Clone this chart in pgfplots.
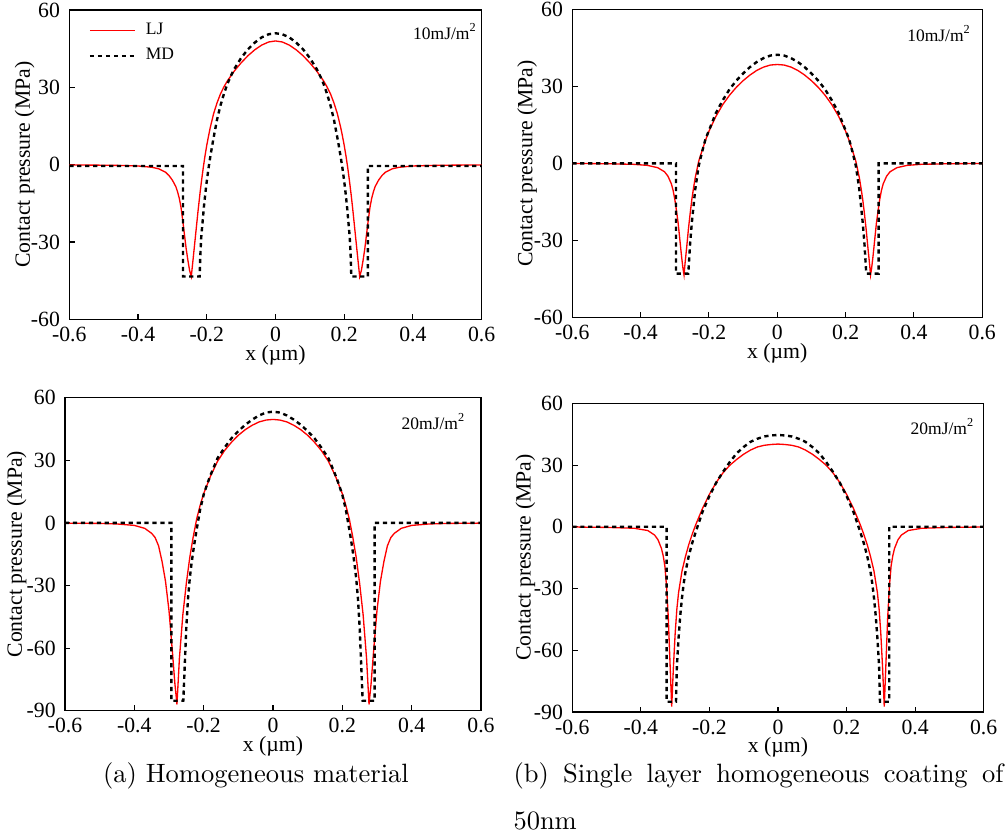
\documentclass[border=0pt]{standalone}
\usepackage{fontspec}
\usepackage{pgfplots}
\pgfplotsset{compat=1.18}
\newfontfamily\tnr{Liberation Serif}
\newcommand\tickf{\tnr\fontsize{8.2}{9.8}\selectfont}
\newcommand\smallf{\tnr\fontsize{6.6}{7.9}\selectfont}
\definecolor{ljred}{RGB}{255,0,0}
\pgfplotsset{
  panel/.style={
    scale only axis,
    xmin=-0.6, xmax=0.6,
    xtick={-0.6,-0.4,-0.2,0,0.2,0.4,0.6},
    xticklabels={-0.6,-0.4,-0.2,0,0.2,0.4,0.6},
    xtick pos=left, ytick pos=left,
    tick align=inside,
    major tick length=2pt,
    tick style={black, line width=0.4pt},
    axis line style={line width=0.5pt},
    ticklabel style={font=\tickf},
    xticklabel style={inner sep=0.5pt, yshift=-2.2pt},
    label style={font=\tickf},
    xlabel={x (µm)},
    ylabel={Contact pressure (MPa)},
    xlabel style={at={(axis description cs:0.5,-0.116)}, anchor=center, inner sep=0.5pt},
    ylabel style={at={(axis description cs:-0.108,0.5)}, anchor=center},
  },
  top/.style={ymin=-60, ymax=60, ytick={-60,-30,0,30,60}, yticklabels={-60,-30,0,30,60}},
  bot/.style={ymin=-90, ymax=60, ytick={-90,-60,-30,0,30,60}, yticklabels={-90,-60,-30,0,30,60}},
}
\begin{document}
\begin{tikzpicture}
\useasboundingbox (0,0) rectangle (379.3pt,315.9pt);

% (a) top: 10 mJ/m2, homogeneous
\begin{axis}[panel, top, at={(26.15pt,195.38pt)}, anchor=south west, width=155.64pt, height=116.73pt,
  legend style={draw=none, fill=none, at={(axis description cs:0.046,0.966)}, anchor=north west, font=\smallf, row sep=2.7pt, inner sep=0pt, column sep=3pt, nodes={inner sep=0.6pt}},
  legend cell align=left]
\addplot[ljred, line width=0.5pt] coordinates {(-0.6,-0.1)(-0.5,-0.2)(-0.45,-0.3)(-0.4,-0.5)(-0.36,-1)(-0.34,-1.6)(-0.32,-2.9)(-0.31,-4.2)(-0.3,-6)(-0.29,-8.5)(-0.285,-10.5)(-0.28,-13)(-0.275,-16.5)(-0.27,-21.5)(-0.265,-27)(-0.26,-32.5)(-0.255,-37)(-0.25,-41)(-0.245,-43.4)(-0.24,-37)(-0.235,-30.5)(-0.23,-24)(-0.225,-17.5)(-0.22,-11.5)(-0.215,-6)(-0.21,-1)(-0.205,3.5)(-0.2,7.5)(-0.195,11)(-0.19,14.3)(-0.18,19.8)(-0.17,24)(-0.16,27.5)(-0.15,30.2)(-0.14,32.5)(-0.12,36.3)(-0.1,39.5)(-0.08,42.3)(-0.06,44.6)(-0.04,46.4)(-0.02,47.6)(0,48)(0.02,47.6)(0.04,46.4)(0.06,44.6)(0.08,42.3)(0.1,39.5)(0.12,36.3)(0.14,32.5)(0.15,30.2)(0.16,27.5)(0.17,24)(0.18,19.8)(0.19,14.3)(0.195,11)(0.2,7.5)(0.205,3.5)(0.21,-1)(0.215,-6)(0.22,-11.5)(0.225,-17.5)(0.23,-24)(0.235,-30.5)(0.24,-37)(0.245,-43.4)(0.25,-41)(0.255,-37)(0.26,-32.5)(0.265,-27)(0.27,-21.5)(0.275,-16.5)(0.28,-13)(0.285,-10.5)(0.29,-8.5)(0.3,-6)(0.31,-4.2)(0.32,-2.9)(0.34,-1.6)(0.36,-1)(0.4,-0.5)(0.45,-0.3)(0.5,-0.2)(0.6,-0.1)};
\addlegendentry{LJ}
\addplot[black, line width=0.9pt, dash pattern=on 1.6pt off 1.4pt] coordinates {(-0.6,-0.5)(-0.269,-0.5)(-0.269,-43.4)(-0.2206,-43.4)(-0.219,-36)(-0.216,-28)(-0.212,-22)(-0.208,-16)(-0.204,-11)(-0.2,-6.5)(-0.195,-1.5)(-0.19,2.8)(-0.185,6.8)(-0.18,10.5)(-0.17,17.5)(-0.16,23)(-0.15,27.5)(-0.14,31.3)(-0.13,34.4)(-0.12,37.1)(-0.1,41.4)(-0.08,44.8)(-0.06,47.4)(-0.04,49.4)(-0.02,50.6)(0,51)(0.02,50.6)(0.04,49.4)(0.06,47.4)(0.08,44.8)(0.1,41.4)(0.12,37.1)(0.13,34.4)(0.14,31.3)(0.15,27.5)(0.16,23)(0.17,17.5)(0.18,10.5)(0.185,6.8)(0.19,2.8)(0.195,-1.5)(0.2,-6.5)(0.204,-11)(0.208,-16)(0.212,-22)(0.216,-28)(0.219,-36)(0.2206,-43.4)(0.269,-43.4)(0.269,-0.5)(0.6,-0.5)};
\addlegendentry{MD}
\node[anchor=east, font=\smallf, inner sep=0pt] at (axis description cs:0.99,0.929) {10mJ/m\textsuperscript{2}};
\end{axis}

% (b) top: 10 mJ/m2, coating
\begin{axis}[panel, top, at={(215.99pt,196.14pt)}, anchor=south west, width=154.73pt, height=116.24pt,
  ylabel style={at={(axis description cs:-0.11,0.5)}, anchor=center}]
\addplot[ljred, line width=0.5pt] coordinates {(-0.6,-0.05)(-0.5,-0.15)(-0.42,-0.4)(-0.38,-0.8)(-0.35,-1.7)(-0.33,-3.3)(-0.32,-5)(-0.31,-8)(-0.305,-10.5)(-0.3,-14)(-0.295,-18.5)(-0.29,-23.5)(-0.285,-30)(-0.28,-36.5)(-0.276,-41)(-0.273,-43.5)(-0.27,-39)(-0.265,-32.5)(-0.26,-25.5)(-0.255,-19.5)(-0.25,-14)(-0.245,-9.5)(-0.24,-5.5)(-0.23,0.8)(-0.22,5)(-0.21,9)(-0.2,12.5)(-0.18,18.2)(-0.16,22.8)(-0.14,26.5)(-0.12,29.6)(-0.1,32.2)(-0.08,34.4)(-0.06,36.2)(-0.04,37.5)(-0.02,38.3)(0,38.5)(0.02,38.3)(0.04,37.5)(0.06,36.2)(0.08,34.4)(0.1,32.2)(0.12,29.6)(0.14,26.5)(0.16,22.8)(0.18,18.2)(0.2,12.5)(0.21,9)(0.22,5)(0.23,0.8)(0.24,-5.5)(0.245,-9.5)(0.25,-14)(0.255,-19.5)(0.26,-25.5)(0.265,-32.5)(0.27,-39)(0.273,-43.5)(0.276,-41)(0.28,-36.5)(0.285,-30)(0.29,-23.5)(0.295,-18.5)(0.3,-14)(0.305,-10.5)(0.31,-8)(0.32,-5)(0.33,-3.3)(0.35,-1.7)(0.38,-0.8)(0.42,-0.4)(0.5,-0.15)(0.6,-0.05)};
\addplot[black, line width=0.9pt, dash pattern=on 1.6pt off 1.4pt] coordinates {(-0.6,0)(-0.2965,0)(-0.2965,-43)(-0.2605,-43)(-0.255,-31)(-0.25,-23)(-0.245,-16.5)(-0.24,-10)(-0.235,-5.5)(-0.23,-1)(-0.22,4.5)(-0.21,9.5)(-0.2,12.8)(-0.18,19.5)(-0.16,24.5)(-0.14,28.8)(-0.12,32.2)(-0.1,35)(-0.08,37.5)(-0.06,39.5)(-0.04,41)(-0.02,42)(0,42.3)(0.02,42)(0.04,41)(0.06,39.5)(0.08,37.5)(0.1,35)(0.12,32.2)(0.14,28.8)(0.16,24.5)(0.18,19.5)(0.2,12.8)(0.21,9.5)(0.22,4.5)(0.23,-1)(0.235,-5.5)(0.24,-10)(0.245,-16.5)(0.25,-23)(0.255,-31)(0.2605,-43)(0.2965,-43)(0.2965,0)(0.6,0)};
\node[anchor=east, font=\smallf, inner sep=0pt] at (axis description cs:0.974,0.922) {10mJ/m\textsuperscript{2}};
\end{axis}

% (a) bottom: 20 mJ/m2, homogeneous
\begin{axis}[panel, bot, at={(24.53pt,47.67pt)}, anchor=south west, width=157.0pt, height=118.13pt,
  ylabel style={at={(axis description cs:-0.116,0.5)}, anchor=center},
  xlabel style={at={(axis description cs:0.5,-0.115)}, anchor=center}]
\addplot[ljred, line width=0.5pt] coordinates {(-0.6,-0.1)(-0.5,-0.25)(-0.45,-0.5)(-0.4,-1.2)(-0.37,-2.6)(-0.35,-5)(-0.34,-7)(-0.33,-11)(-0.32,-18.5)(-0.31,-28)(-0.3,-42)(-0.29,-62)(-0.283,-77)(-0.277,-87)(-0.27,-65)(-0.26,-44)(-0.25,-29)(-0.24,-16.5)(-0.23,-6.6)(-0.22,2)(-0.21,8.5)(-0.2,14)(-0.18,22.5)(-0.16,29.5)(-0.14,34.6)(-0.12,38.6)(-0.1,42)(-0.08,44.7)(-0.06,46.8)(-0.04,48.4)(-0.02,49.3)(0,49.6)(0.02,49.3)(0.04,48.4)(0.06,46.8)(0.08,44.7)(0.1,42)(0.12,38.6)(0.14,34.6)(0.16,29.5)(0.18,22.5)(0.2,14)(0.21,8.5)(0.22,2)(0.23,-6.6)(0.24,-16.5)(0.25,-29)(0.26,-44)(0.27,-65)(0.277,-87)(0.283,-77)(0.29,-62)(0.3,-42)(0.31,-28)(0.32,-18.5)(0.33,-11)(0.34,-7)(0.35,-5)(0.37,-2.6)(0.4,-1.2)(0.45,-0.5)(0.5,-0.25)(0.6,-0.1)};
\addplot[black, line width=0.9pt, dash pattern=on 1.6pt off 1.4pt] coordinates {(-0.6,0)(-0.2933,0)(-0.2933,-85.2)(-0.2587,-85.2)(-0.25,-50)(-0.245,-36)(-0.24,-26.5)(-0.235,-19.5)(-0.23,-13.5)(-0.225,-8)(-0.22,-3)(-0.21,6.5)(-0.2,13.5)(-0.19,18.5)(-0.18,23)(-0.16,31)(-0.14,36)(-0.12,40.5)(-0.1,44)(-0.08,47)(-0.06,49.5)(-0.04,51.5)(-0.02,52.9)(0,53.3)(0.02,52.9)(0.04,51.5)(0.06,49.5)(0.08,47)(0.1,44)(0.12,40.5)(0.14,36)(0.16,31)(0.18,23)(0.19,18.5)(0.2,13.5)(0.21,6.5)(0.22,-3)(0.225,-8)(0.23,-13.5)(0.235,-19.5)(0.24,-26.5)(0.245,-36)(0.25,-50)(0.2587,-85.2)(0.2933,-85.2)(0.2933,0)(0.6,0)};
\node[anchor=east, font=\smallf, inner sep=0pt] at (axis description cs:0.964,0.923) {20mJ/m\textsuperscript{2}};
\end{axis}

% (b) bottom: 20 mJ/m2, coating
\begin{axis}[panel, bot, at={(215.99pt,47.18pt)}, anchor=south west, width=155.26pt, height=116.5pt,
  ylabel style={at={(axis description cs:-0.114,0.5)}, anchor=center},
  xlabel style={at={(axis description cs:0.5,-0.115)}, anchor=center}]
\addplot[ljred, line width=0.5pt] coordinates {(-0.6,-0.1)(-0.5,-0.3)(-0.42,-0.7)(-0.38,-1.8)(-0.36,-4)(-0.35,-6.3)(-0.34,-10.5)(-0.335,-14)(-0.33,-19)(-0.325,-29)(-0.32,-44)(-0.315,-66)(-0.31,-87.4)(-0.305,-68)(-0.3,-52)(-0.295,-40)(-0.29,-32)(-0.28,-21.5)(-0.27,-14.5)(-0.26,-8.5)(-0.25,-3.5)(-0.24,1)(-0.22,9)(-0.2,15.8)(-0.18,21.6)(-0.16,26.3)(-0.14,30)(-0.12,32.8)(-0.1,35.3)(-0.08,37.3)(-0.06,38.8)(-0.04,39.6)(-0.02,40)(0,40.2)(0.02,40)(0.04,39.6)(0.06,38.8)(0.08,37.3)(0.1,35.3)(0.12,32.8)(0.14,30)(0.16,26.3)(0.18,21.6)(0.2,15.8)(0.22,9)(0.24,1)(0.25,-3.5)(0.26,-8.5)(0.27,-14.5)(0.28,-21.5)(0.29,-32)(0.295,-40)(0.3,-52)(0.305,-68)(0.31,-87.4)(0.315,-66)(0.32,-44)(0.325,-29)(0.33,-19)(0.335,-14)(0.34,-10.5)(0.35,-6.3)(0.36,-4)(0.38,-1.8)(0.42,-0.7)(0.5,-0.3)(0.6,-0.1)};
\addplot[black, line width=0.9pt, dash pattern=on 1.6pt off 1.4pt] coordinates {(-0.6,0)(-0.3247,0)(-0.3247,-85)(-0.2975,-85)(-0.295,-68)(-0.29,-54)(-0.285,-43)(-0.28,-34.5)(-0.275,-27.5)(-0.27,-22)(-0.26,-14)(-0.25,-7.8)(-0.24,-2.5)(-0.22,7.3)(-0.2,15)(-0.18,21.5)(-0.16,26.8)(-0.14,31.6)(-0.12,35.8)(-0.1,38.8)(-0.08,41.3)(-0.06,42.8)(-0.04,43.9)(-0.02,44.4)(0,44.6)(0.02,44.4)(0.04,43.9)(0.06,42.8)(0.08,41.3)(0.1,38.8)(0.12,35.8)(0.14,31.6)(0.16,26.8)(0.18,21.5)(0.2,15)(0.22,7.3)(0.24,-2.5)(0.25,-7.8)(0.26,-14)(0.27,-22)(0.275,-27.5)(0.28,-34.5)(0.285,-43)(0.29,-54)(0.295,-68)(0.2975,-85)(0.3247,-85)(0.3247,0)(0.6,0)};
\node[anchor=east, font=\smallf, inner sep=0pt] at (axis description cs:0.979,0.924) {20mJ/m\textsuperscript{2}};
\end{axis}

% sub-captions
\node[anchor=center, font=\fontsize{10}{12}\selectfont] at (96.6pt,23.2pt) {(a) Homogeneous material};
\node[anchor=west, inner sep=0pt, font=\fontsize{10}{12}\selectfont] at (193.6pt,23.2pt) {\makebox[184.9pt][s]{(b) Single layer homogeneous coating of}};
\node[anchor=west, inner sep=0pt, font=\fontsize{10}{12}\selectfont] at (193.6pt,5.9pt) {50nm};
\end{tikzpicture}
\end{document}
